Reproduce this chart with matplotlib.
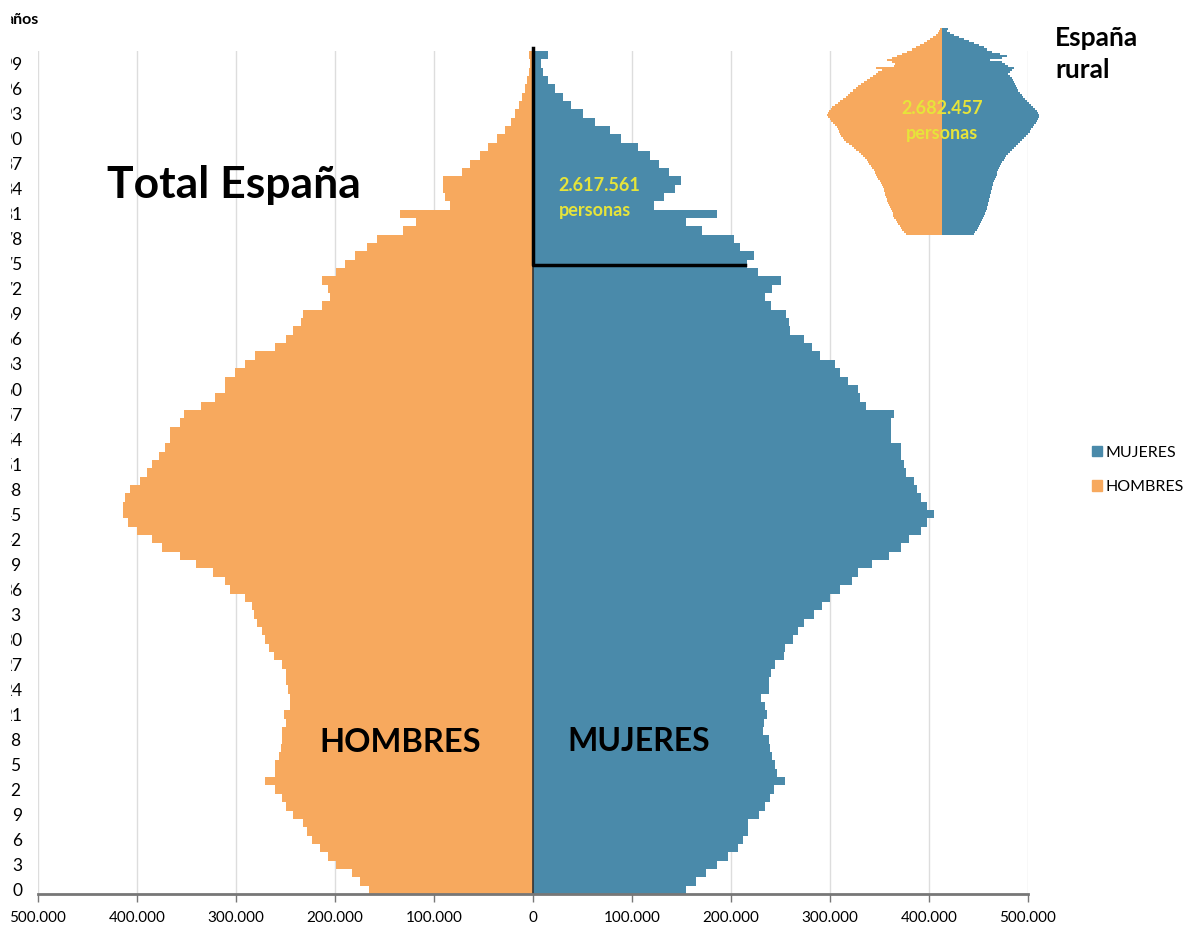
import matplotlib
matplotlib.use('Agg')
import matplotlib.pyplot as plt
from matplotlib.patches import Patch, Rectangle
import numpy as np

# edades 0..100 (100 = 100 y mas)
edades = list(range(0, 101))

# Total Espana, en miles de personas
hombres = [166, 175, 183, 199, 207, 215, 223, 228, 232, 242,
           249, 254, 261, 271, 261, 261, 257, 255, 254, 254,
           250, 252, 245, 245, 247, 249, 249, 254, 262, 267,
           271, 274, 279, 282, 284, 291, 306, 311, 323, 340,
           357, 375, 385, 400, 409, 414, 414, 412, 407, 397,
           390, 385, 378, 372, 367, 367, 357, 353, 335, 321,
           311, 311, 301, 291, 281, 261, 250, 242, 234, 232,
           213, 205, 207, 213, 199, 190, 180, 168, 158, 131,
           118, 134, 84, 89, 91, 91, 72, 64, 54, 45,
           36, 28, 22, 18, 14, 11, 8, 6, 4, 3, 4]
mujeres = [155, 165, 175, 186, 197, 207, 212, 217, 217, 228,
           234, 239, 243, 255, 246, 244, 241, 239, 238, 232,
           233, 236, 234, 230, 238, 238, 240, 244, 254, 255,
           263, 268, 274, 284, 292, 300, 310, 322, 328, 342,
           360, 372, 380, 392, 398, 405, 398, 392, 388, 385,
           377, 375, 372, 372, 362, 362, 362, 365, 336, 330,
           328, 318, 310, 305, 290, 282, 274, 260, 259, 256,
           240, 234, 241, 250, 227, 216, 223, 209, 203, 171,
           155, 186, 122, 132, 143, 149, 137, 127, 118, 106,
           89, 78, 63, 51, 38, 30, 22, 15, 10, 8, 15]

# Espana rural, en cientos de personas (aprox.)
hombres_rural = [79, 84, 88, 90, 92, 97, 99, 101, 106, 108,
                 108, 110, 112, 114, 117, 119, 121, 121, 123, 125,
                 125, 128, 128, 130, 132, 134, 136, 141, 143, 145,
                 147, 150, 154, 156, 161, 163, 165, 169, 174, 178,
                 183, 189, 194, 198, 205, 211, 216, 218, 222, 224,
                 227, 229, 231, 235, 240, 244, 246, 251, 253, 251,
                 249, 244, 242, 235, 229, 224, 218, 211, 207, 202,
                 196, 189, 185, 178, 172, 165, 158, 152, 145, 141,
                 132, 145, 106, 103, 110, 121, 110, 99, 88, 77,
                 66, 57, 48, 40, 33, 26, 20, 13, 9, 7, 4]
mujeres_rural = [70, 73, 77, 79, 81, 84, 86, 88, 90, 92,
                 95, 97, 99, 99, 101, 101, 103, 103, 106, 106,
                 108, 108, 110, 110, 112, 112, 114, 117, 119, 121,
                 121, 123, 125, 128, 130, 132, 136, 139, 141, 145,
                 150, 154, 158, 163, 167, 172, 176, 180, 185, 189,
                 194, 196, 200, 202, 207, 209, 211, 213, 213, 211,
                 209, 205, 200, 196, 191, 187, 183, 178, 176, 172,
                 167, 165, 163, 161, 158, 156, 154, 150, 145, 150,
                 154, 158, 145, 139, 132, 106, 132, 143, 128, 110,
                 99, 92, 81, 70, 59, 48, 37, 26, 18, 11, 13]

ticks_x = [-500, -400, -300, -200, -100, 0, 100, 200, 300, 400, 500]
ticks_y = list(range(0, 100, 3))

naranja = '#F7A95E'
azul = '#4A8AAA'
amarillo = '#E6E43A'
fuente = 'Lato'

fig = plt.figure(figsize=(11.85, 9.27), dpi=100)
W, H = 1185, 927

def caja(x0, y0, x1, y1):
    return [x0 / W, 1 - y1 / H, (x1 - x0) / W, (y1 - y0) / H]

ax = fig.add_axes(caja(38, 51, 1028, 894))
ax.barh(edades, [-h for h in hombres], height=1.0, color=naranja, linewidth=0)
ax.barh(edades, mujeres, height=1.0, color=azul, linewidth=0)
ax.set_xlim(-500, 500)
ax.set_ylim(-0.5, 100.5)
ax.set_xticks(ticks_x)
ax.set_xticklabels(['0' if t == 0 else '{:,}'.format(abs(t) * 1000).replace(',', '.') for t in ticks_x],
                   fontsize=11, family=fuente)
ax.set_yticks(ticks_y)
ax.set_yticklabels([str(t) for t in ticks_y], fontsize=12.5, family=fuente)
ax.tick_params(axis='y', length=0, pad=11.5)
ax.tick_params(axis='x', length=6, width=1, color='#777777', pad=6)
ax.grid(axis='x', color='#DDDDDD', linewidth=1)
ax.set_axisbelow(True)
for s in ['top', 'right', 'left']:
    ax.spines[s].set_visible(False)
ax.spines['bottom'].set_color('#777777')
ax.spines['bottom'].set_linewidth(2)
ax.axvline(0, color='#333333', linewidth=1.2)

# marca de mayores de 75 anos
ax.plot([0, 0, 214], [100.9, 74.9, 74.9], color='black', linewidth=2.5, clip_on=False)
ax.text(26, 84.4, '2.617.561', color=amarillo, fontsize=13, fontweight='bold', family=fuente, va='center')
ax.text(26, 81.4, 'personas', color=amarillo, fontsize=13, fontweight='bold', family=fuente, va='center')

ax.text(-430, 84.5, 'Total España', fontsize=32, fontweight='bold', family=fuente, va='center')
ax.text(-216, 17.6, 'HOMBRES', fontsize=23.5, fontweight='bold', family=fuente, va='center')
ax.text(35, 17.8, 'MUJERES', fontsize=23, fontweight='bold', family=fuente, va='center')

fig.text(39 / W, 1 - 20 / H, 'años', fontsize=11.5, fontweight='bold', family=fuente, ha='right', va='center')

# piramide rural pequena
ax2 = fig.add_axes(caja(822, 28, 1062, 235))
ax2.barh(edades, [-h for h in hombres_rural], height=1.0, color=naranja, linewidth=0)
ax2.barh(edades, mujeres_rural, height=1.0, color=azul, linewidth=0)
ax2.set_xlim(-264, 264)
ax2.set_ylim(-0.5, 100.5)
ax2.axis('off')
ax2.text(0, 61, '2.682.457', color=amarillo, fontsize=13, fontweight='bold', family=fuente, ha='center', va='center')
ax2.text(0, 49, 'personas', color=amarillo, fontsize=13, fontweight='bold', family=fuente, ha='center', va='center')

fig.text(1055 / W, 1 - 38 / H, 'España', fontsize=19, fontweight='bold', family=fuente, va='center')
fig.text(1055 / W, 1 - 70 / H, 'rural', fontsize=19, fontweight='bold', family=fuente, va='center')

fig.legend(handles=[Patch(color=azul), Patch(color=naranja)], labels=['MUJERES', 'HOMBRES'],
           loc='center left', bbox_to_anchor=(1092 / W, 1 - 470 / H), frameon=False,
           handlelength=0.65, handleheight=0.65, handletextpad=0.2, labelspacing=1.3,
           borderaxespad=0, borderpad=0,
           prop={'family': fuente, 'size': 11.5})

# el original esta recortado por la izquierda
fig.add_artist(Rectangle((0, 0), 10 / W, 1, transform=fig.transFigure, color='white', zorder=100))

fig.savefig('out.png', dpi=100)
